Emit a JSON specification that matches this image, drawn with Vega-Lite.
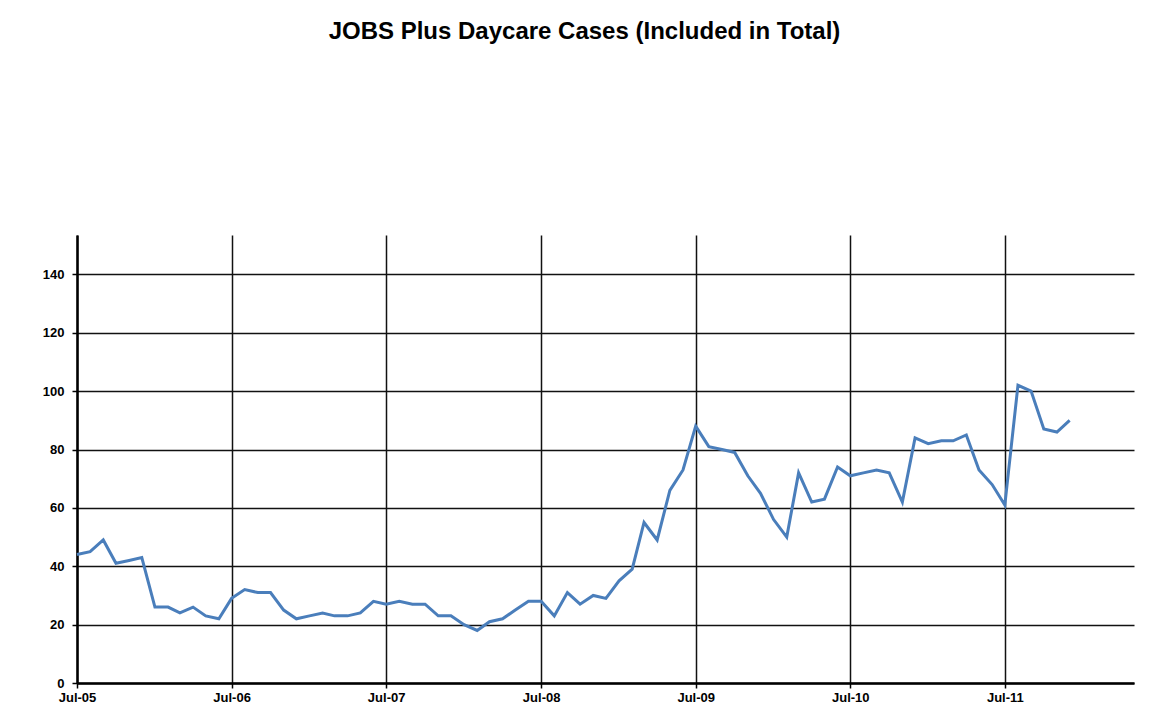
{
  "$schema": "https://vega.github.io/schema/vega-lite/v6.json",
  "width": 1057,
  "height": 448,
  "autosize": {"type": "none"},
  "padding": {"left": 77, "top": 235, "right": 25, "bottom": 32},
  "background": "white",
  "config": {
    "font": "Liberation Sans",
    "view": {"stroke": null}
  },
  "title": {
    "text": "JOBS Plus Daycare Cases (Included in Total)",
    "font": "Liberation Sans",
    "fontSize": 24,
    "fontWeight": "bold",
    "color": "black",
    "anchor": "middle",
    "baseline": "alphabetic",
    "offset": 172,
    "dx": -21
  },
  "data": {
    "values": [
      {"date": "2005-07-01", "cases": 44},
      {"date": "2005-08-01", "cases": 45},
      {"date": "2005-09-01", "cases": 49},
      {"date": "2005-10-01", "cases": 41},
      {"date": "2005-11-01", "cases": 42},
      {"date": "2005-12-01", "cases": 43},
      {"date": "2006-01-01", "cases": 26},
      {"date": "2006-02-01", "cases": 26},
      {"date": "2006-03-01", "cases": 24},
      {"date": "2006-04-01", "cases": 26},
      {"date": "2006-05-01", "cases": 23},
      {"date": "2006-06-01", "cases": 22},
      {"date": "2006-07-01", "cases": 29},
      {"date": "2006-08-01", "cases": 32},
      {"date": "2006-09-01", "cases": 31},
      {"date": "2006-10-01", "cases": 31},
      {"date": "2006-11-01", "cases": 25},
      {"date": "2006-12-01", "cases": 22},
      {"date": "2007-01-01", "cases": 23},
      {"date": "2007-02-01", "cases": 24},
      {"date": "2007-03-01", "cases": 23},
      {"date": "2007-04-01", "cases": 23},
      {"date": "2007-05-01", "cases": 24},
      {"date": "2007-06-01", "cases": 28},
      {"date": "2007-07-01", "cases": 27},
      {"date": "2007-08-01", "cases": 28},
      {"date": "2007-09-01", "cases": 27},
      {"date": "2007-10-01", "cases": 27},
      {"date": "2007-11-01", "cases": 23},
      {"date": "2007-12-01", "cases": 23},
      {"date": "2008-01-01", "cases": 20},
      {"date": "2008-02-01", "cases": 18},
      {"date": "2008-03-01", "cases": 21},
      {"date": "2008-04-01", "cases": 22},
      {"date": "2008-05-01", "cases": 25},
      {"date": "2008-06-01", "cases": 28},
      {"date": "2008-07-01", "cases": 28},
      {"date": "2008-08-01", "cases": 23},
      {"date": "2008-09-01", "cases": 31},
      {"date": "2008-10-01", "cases": 27},
      {"date": "2008-11-01", "cases": 30},
      {"date": "2008-12-01", "cases": 29},
      {"date": "2009-01-01", "cases": 35},
      {"date": "2009-02-01", "cases": 39},
      {"date": "2009-03-01", "cases": 55},
      {"date": "2009-04-01", "cases": 49},
      {"date": "2009-05-01", "cases": 66},
      {"date": "2009-06-01", "cases": 73},
      {"date": "2009-07-01", "cases": 88},
      {"date": "2009-08-01", "cases": 81},
      {"date": "2009-09-01", "cases": 80},
      {"date": "2009-10-01", "cases": 79},
      {"date": "2009-11-01", "cases": 71},
      {"date": "2009-12-01", "cases": 65},
      {"date": "2010-01-01", "cases": 56},
      {"date": "2010-02-01", "cases": 50},
      {"date": "2010-03-01", "cases": 72},
      {"date": "2010-04-01", "cases": 62},
      {"date": "2010-05-01", "cases": 63},
      {"date": "2010-06-01", "cases": 74},
      {"date": "2010-07-01", "cases": 71},
      {"date": "2010-08-01", "cases": 72},
      {"date": "2010-09-01", "cases": 73},
      {"date": "2010-10-01", "cases": 72},
      {"date": "2010-11-01", "cases": 62},
      {"date": "2010-12-01", "cases": 84},
      {"date": "2011-01-01", "cases": 82},
      {"date": "2011-02-01", "cases": 83},
      {"date": "2011-03-01", "cases": 83},
      {"date": "2011-04-01", "cases": 85},
      {"date": "2011-05-01", "cases": 73},
      {"date": "2011-06-01", "cases": 68},
      {"date": "2011-07-01", "cases": 61},
      {"date": "2011-08-01", "cases": 102},
      {"date": "2011-09-01", "cases": 100},
      {"date": "2011-10-01", "cases": 87},
      {"date": "2011-11-01", "cases": 86},
      {"date": "2011-12-01", "cases": 90}
    ]
  },
  "mark": {"type": "line", "color": "#4a7ebb", "strokeWidth": 3, "strokeJoin": "miter"},
  "encoding": {
    "x": {
      "field": "date",
      "type": "temporal",
      "scale": {
        "type": "utc",
        "domain": [
          {"year": 2005, "month": 7, "date": 1, "utc": true},
          {"year": 2012, "month": 5, "date": 1, "utc": true}
        ]
      },
      "axis": {
        "title": null,
        "values": [
          {"year": 2005, "month": 7, "date": 1, "utc": true},
          {"year": 2006, "month": 7, "date": 1, "utc": true},
          {"year": 2007, "month": 7, "date": 1, "utc": true},
          {"year": 2008, "month": 7, "date": 1, "utc": true},
          {"year": 2009, "month": 7, "date": 1, "utc": true},
          {"year": 2010, "month": 7, "date": 1, "utc": true},
          {"year": 2011, "month": 7, "date": 1, "utc": true}
        ],
        "labelExpr": "utcFormat(datum.value, '%b-%y')",
        "labelFont": "Liberation Sans",
        "labelFontSize": 13,
        "labelFontWeight": "bold",
        "labelColor": "black",
        "labelPadding": 3,
        "labelFlush": false,
        "labelOverlap": false,
        "tickSize": 5,
        "tickColor": "black",
        "tickWidth": 1.5,
        "domainColor": "black",
        "domainWidth": 2.5,
        "grid": true,
        "gridColor": "#111111",
        "gridWidth": 1.5
      }
    },
    "y": {
      "field": "cases",
      "type": "quantitative",
      "scale": {"domain": [0, 153.5], "nice": false, "zero": true},
      "axis": {
        "title": null,
        "values": [0, 20, 40, 60, 80, 100, 120, 140],
        "labelFont": "Liberation Sans",
        "labelFontSize": 13,
        "labelFontWeight": "bold",
        "labelColor": "black",
        "labelPadding": 8,
        "tickSize": 5,
        "tickColor": "black",
        "tickWidth": 1.5,
        "domainColor": "black",
        "domainWidth": 2.5,
        "grid": true,
        "gridColor": "#111111",
        "gridWidth": 1.5
      }
    }
  }
}
